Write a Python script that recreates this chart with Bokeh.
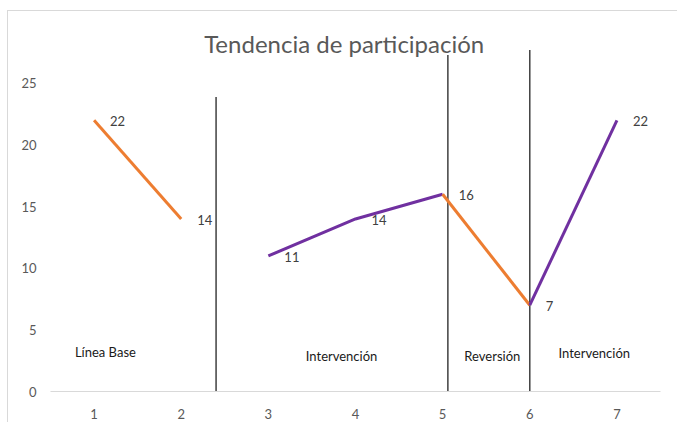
from bokeh.plotting import figure
from bokeh.models import Range1d, FixedTicker, Label
from bokeh.core.properties import value
from bokeh.embed import file_html
from bokeh.resources import INLINE

# ---- data ----
sessions = [1, 2, 3, 4, 5, 6, 7]
x_tick_labels = {1: "1", 2: "2", 3: "3", 4: "4", 5: "5", 6: "6", 7: "7"}
y_ticks = [0, 5, 10, 15, 20, 25]

baseline_x = [1, 2]
baseline_y = [22, 14]
intervention1_x = [3, 4, 5]
intervention1_y = [11, 14, 16]
reversal_x = [5, 6]
reversal_y = [16, 7]
intervention2_x = [6, 7]
intervention2_y = [7, 22]

label_x = [1, 2, 3, 4, 5, 6, 7]
label_y = [22, 14, 11, 14, 16, 7, 22]
label_text = [str(v) for v in label_y]

phase_line_x = [2.4, 5.06, 6.0]
phase_line_top = [23.9, 27.3, 27.7]
phase_line_bottom = [0, 0, 0]

phase_names = ["Línea Base", "Intervención", "Reversión", "Intervención"]
phase_name_x = [1.13, 3.84, 5.57, 6.74]
phase_name_y = [3.17, 2.92, 2.92, 3.1]

title_text = "Tendencia de participación"

FONT = "Lato"
ORANGE = "#ED7D31"
PURPLE = "#7030A0"

p = figure(width=670, height=412, output_backend="svg", toolbar_location=None,
           x_range=Range1d(0.5, 7.5), y_range=Range1d(0, 30.1),
           min_border_left=42, min_border_right=18, min_border_top=9,
           min_border_bottom=32)
p.outline_line_color = None
p.xgrid.visible = False
p.ygrid.visible = False
p.background_fill_color = "white"
p.border_fill_color = "white"
p.styles = {"margin-left": "7px", "margin-top": "10px",
            "border-top": "1px solid #d9d9d9", "border-left": "1px solid #d9d9d9"}

# axes
p.xaxis.ticker = FixedTicker(ticks=sessions)
p.xaxis.major_label_overrides = x_tick_labels
p.xaxis.axis_line_color = "#d9d9d9"
p.xaxis.major_tick_line_color = None
p.xaxis.minor_tick_line_color = None
p.xaxis.major_label_standoff = 11
p.xaxis.major_label_text_font = FONT
p.xaxis.major_label_text_font_size = "13px"
p.xaxis.major_label_text_color = "#595959"

p.yaxis.ticker = FixedTicker(ticks=y_ticks)
p.yaxis.axis_line_color = None
p.yaxis.major_tick_line_color = None
p.yaxis.minor_tick_line_color = None
p.yaxis.major_label_standoff = 8
p.yaxis.major_label_text_font = FONT
p.yaxis.major_label_text_font_size = "13px"
p.yaxis.major_label_text_color = "#595959"

# phase separator lines
p.segment(x0=phase_line_x, y0=phase_line_bottom, x1=phase_line_x, y1=phase_line_top,
          line_color="#404040", line_width=1.5)

# series lines
p.line(baseline_x, baseline_y, line_color=ORANGE, line_width=3)
p.line(intervention1_x, intervention1_y, line_color=PURPLE, line_width=3)
p.line(reversal_x, reversal_y, line_color=ORANGE, line_width=3)
p.line(intervention2_x, intervention2_y, line_color=PURPLE, line_width=3)

# value labels
p.text(x=label_x, y=label_y, text=label_text, x_offset=16, y_offset=1,
       text_font=value(FONT), text_font_size="13px", text_color="#404040",
       text_align="left", text_baseline="middle")

# phase names
p.text(x=phase_name_x, y=phase_name_y, text=phase_names,
       text_font=value(FONT), text_font_size="13px", text_color="#1a1a1a",
       text_align="center", text_baseline="middle")

# title
p.add_layout(Label(x=3.87, y=28.2, text=title_text, text_font=FONT,
                   text_font_size="24px", text_color="#595959",
                   text_align="center", text_baseline="middle"))

open("out.html", "w").write(file_html(p, INLINE))
